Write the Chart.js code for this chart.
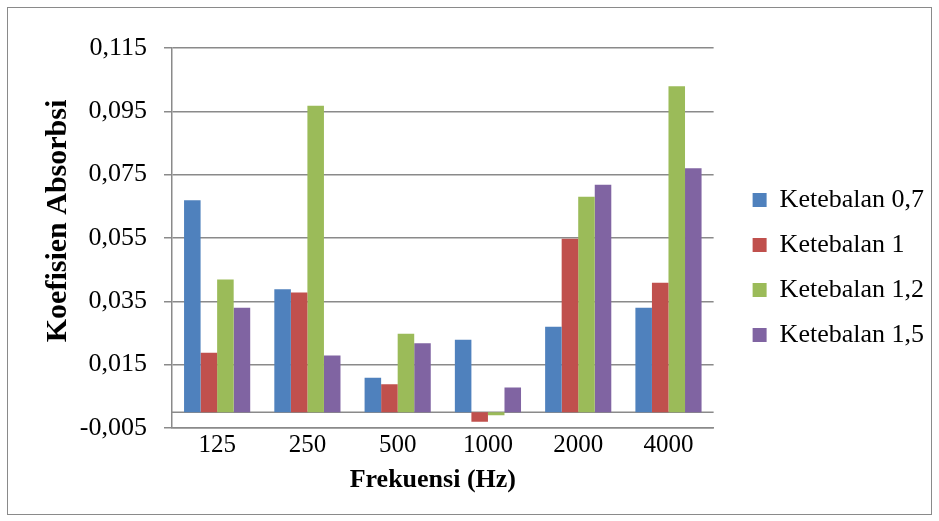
<!DOCTYPE html>
<html>
<head>
<meta charset="utf-8">
<script src="https://cdn.jsdelivr.net/npm/chart.js@4"></script>
<style>
  html,body{margin:0;padding:0;background:#fff;}
  #frame{position:absolute;left:7px;top:7px;width:923px;height:506px;border:1px solid #8a8a8a;}
  #wrap{position:absolute;left:0;top:0;width:939px;height:521px;}
</style>
</head>
<body>
<div id="frame"></div>
<div id="wrap"><canvas id="chart" width="939" height="521"></canvas></div>
<script>
const categories = ['125','250','500','1000','2000','4000'];
const seriesNames = ['Ketebalan 0,7','Ketebalan 1','Ketebalan 1,2','Ketebalan 1,5'];
const t07 = [0.0669,0.0388,0.0109,0.0229,0.0270,0.0330];
const t10 = [0.0188,0.0378,0.0088,-0.0030,0.0548,0.0409];
const t12 = [0.0419,0.0968,0.0248,-0.0010,0.0680,0.1029];
const t15 = [0.0330,0.0179,0.0218,0.0078,0.0718,0.0770];
const colors = ['#4F81BD','#C0504D','#9BBB59','#8064A2'];

const serif = "'Liberation Serif','Times New Roman',serif";
const gridGrey = '#8a8a8a';

// line at zero, like the original
const zeroLine = {
  id:'zeroLine',
  beforeDatasetsDraw(chart){
    const y = chart.scales.y.getPixelForValue(0);
    const c = chart.ctx;
    c.save();
    c.strokeStyle = gridGrey;
    c.lineWidth = 1.5;
    c.beginPath();
    c.moveTo(chart.chartArea.left, y);
    c.lineTo(chart.chartArea.right, y);
    c.stroke();
    c.restore();
  }
};

function shiftDraw(chart, obj, fn, dx, dy){
  const orig = obj[fn].bind(obj);
  obj[fn] = function(...a){
    chart.ctx.save();
    chart.ctx.translate(dx,dy);
    orig(...a);
    chart.ctx.restore();
  };
}

// nudge legend and axis titles to where the original has them
const nudge = {
  id:'nudge',
  afterInit(chart){ shiftDraw(chart, chart.legend, 'draw', 20, -12); },
  beforeDraw(chart){
    if(chart._nudged) return;
    chart._nudged = true;
    shiftDraw(chart, chart.scales.y, 'drawTitle', 0, -17);
    shiftDraw(chart, chart.scales.x, 'drawTitle', -10, 0);
  }
};

const ctx = document.getElementById('chart').getContext('2d');
new Chart(ctx,{
  type:'bar',
  data:{
    labels:categories,
    datasets:[t07,t10,t12,t15].map((d,i)=>({
      label:seriesNames[i], data:d, backgroundColor:colors[i], borderWidth:0,
      categoryPercentage:0.733, barPercentage:1
    }))
  },
  options:{
    responsive:false,
    animation:false,
    layout:{padding:{left:40,top:48,bottom:10,right:25}},
    plugins:{
      legend:{
        position:'right',
        labels:{boxWidth:14,boxHeight:14,padding:19,color:'#000',font:{family:serif,size:26}}
      },
      tooltip:{enabled:false}
    },
    scales:{
      x:{
        afterFit(s){ s.height = 83; },
        grid:{display:false,drawTicks:false},
        border:{display:true,color:gridGrey,width:1.5},
        ticks:{color:'#000',font:{family:serif,size:25},padding:2},
        title:{display:true,text:'Frekuensi (Hz)',color:'#000',font:{family:serif,size:26,weight:'bold'},padding:{top:0,bottom:15}}
      },
      y:{
        min:-0.005,max:0.115,
        afterFit(s){ s.width = 132; },
        ticks:{stepSize:0.02,color:'#000',font:{family:serif,size:26},padding:17,
          callback:v=>v.toFixed(3).replace('.',',')},
        grid:{color:gridGrey,lineWidth:1.5,tickLength:8},
        border:{color:gridGrey,width:1.5},
        title:{display:true,text:'Koefisien Absorbsi',color:'#000',font:{family:serif,size:30,weight:'bold'},padding:0}
      }
    }
  },
  plugins:[zeroLine,nudge]
});
</script>
</body>
</html>
